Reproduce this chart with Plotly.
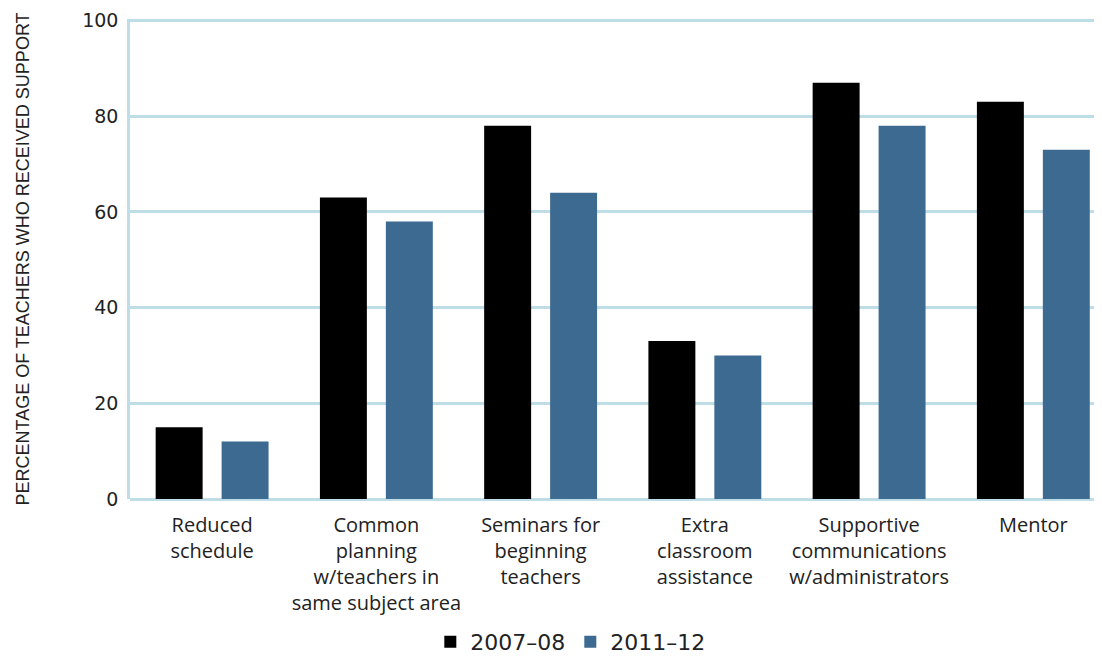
import plotly.graph_objects as go

categories = [
    "Reduced<br>schedule",
    "Common<br>planning<br>w/teachers in<br>same subject area",
    "Seminars for<br>beginning<br>teachers",
    "Extra<br>classroom<br>assistance",
    "Supportive<br>communications<br>w/administrators",
    "Mentor",
]
values_2007_08 = [15, 63, 78, 33, 87, 83]
values_2011_12 = [12, 58, 64, 30, 78, 73]
series_names = ["2007\u201308", "2011\u201312"]
y_ticks = [0, 20, 40, 60, 80, 100]

FONT = "Open Sans"
NUMFONT = "DejaVu Sans"
GRID = "#bedde6"
TXT = "#222222"

fig = go.Figure()
fig.add_trace(go.Bar(x=categories, y=values_2007_08, name=series_names[0],
                     marker=dict(color="#000000", line=dict(width=0))))
fig.add_trace(go.Bar(x=categories, y=values_2011_12, name=series_names[1],
                     marker=dict(color="#3d6a91", line=dict(width=0))))

fig.update_layout(
    width=1094, height=648,
    margin=dict(l=122, r=0, t=11, b=157, autoexpand=False),
    plot_bgcolor="white", paper_bgcolor="white",
    barmode="group", bargap=0.197, bargroupgap=0.288,
    font=dict(family=FONT, size=20, color=TXT),
    showlegend=True,
    legend=dict(orientation="h", x=0.453, xanchor="center", y=-0.298, yanchor="middle",
                font=dict(family=NUMFONT, size=22, color=TXT), traceorder="normal",
                tracegroupgap=0),
    xaxis=dict(
        range=[-0.5, 5.418], automargin=False,
        showgrid=False, zeroline=False, showline=False,
        ticks="outside", ticklen=8, tickcolor="rgba(0,0,0,0)",
        tickfont=dict(size=20, color=TXT),
    ),
    yaxis=dict(
        range=[0, 100.3], automargin=False,
        tickvals=y_ticks,
        showgrid=True, gridcolor=GRID, gridwidth=2.5,
        zeroline=True, zerolinecolor=GRID, zerolinewidth=2.5,
        showline=True, linecolor=GRID, linewidth=2.5,
        ticks="outside", ticklen=5, tickcolor="rgba(0,0,0,0)",
        tickfont=dict(family=NUMFONT, size=19, color=TXT),
        title=dict(text="PERCENTAGE OF TEACHERS WHO RECEIVED SUPPORT",
                   font=dict(family="Liberation Sans", size=18, color=TXT), standoff=48),
    ),
)

fig.write_html("out.html")
